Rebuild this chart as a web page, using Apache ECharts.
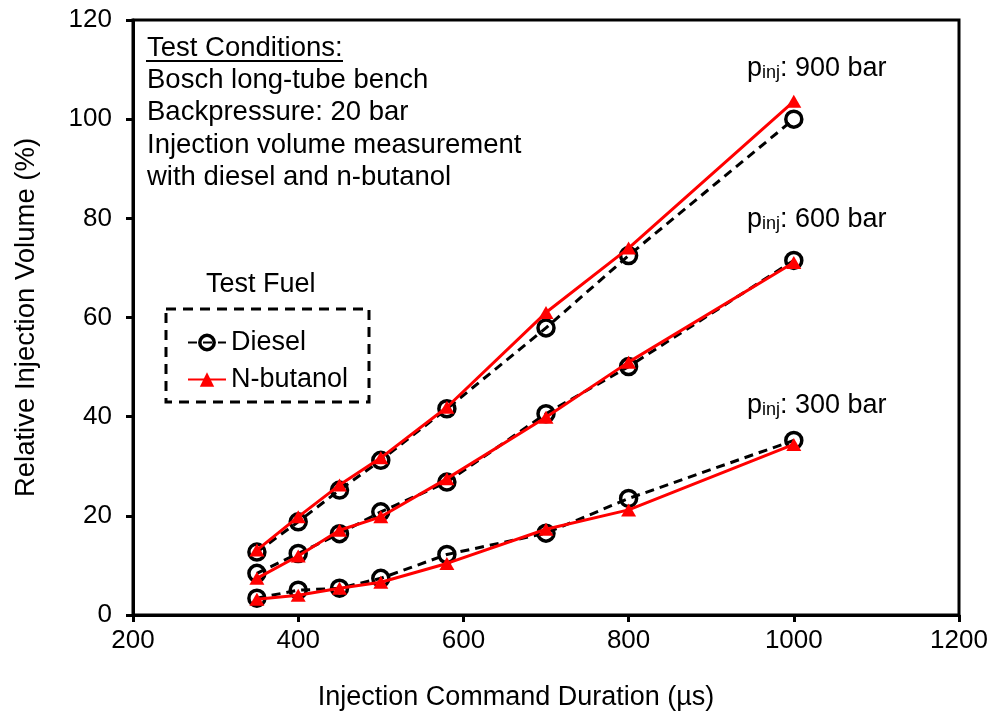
<!DOCTYPE html>
<html>
<head>
<meta charset="utf-8">
<script src="https://cdn.jsdelivr.net/npm/echarts@6/dist/echarts.min.js"></script>
<style>html,body{margin:0;padding:0;background:#fff}#c{width:993px;height:717px}</style>
</head>
<body>
<div id="c"></div>
<script>
const durations = [350, 400, 450, 500, 580, 700, 800, 1000];
const diesel900 = [12.7, 18.8, 25.2, 31.2, 41.6, 57.9, 72.5, 100.0];
const butanol900 = [13.1, 19.8, 26.2, 31.7, 41.9, 61.0, 74.0, 103.6];
const diesel600 = [8.4, 12.4, 16.4, 20.8, 26.8, 40.6, 50.1, 71.5];
const butanol600 = [7.4, 11.9, 17.1, 19.8, 27.5, 39.9, 51.0, 71.1];
const diesel300 = [3.4, 5.0, 5.4, 7.4, 12.2, 16.5, 23.5, 35.2];
const butanol300 = [3.2, 4.0, 5.4, 6.6, 10.4, 17.3, 21.2, 34.4];
const conditionLines = ['Bosch long-tube bench', 'Backpressure: 20 bar', 'Injection volume measurement', 'with diesel and n-butanol'];
const pressureLabels = ['900 bar', '600 bar', '300 bar'];

const FONT = '"Liberation Sans", Arial, sans-serif';
const pair = (vals) => durations.map((d, i) => [d, vals[i]]);

function dieselSeries(vals) {
  return {
    name: 'Diesel', type: 'line', data: pair(vals), z: 2,
    symbol: 'circle', symbolSize: 16,
    lineStyle: { color: '#000', width: 3, type: [9, 6] },
    itemStyle: { color: 'rgba(255,255,255,0)', borderColor: '#000', borderWidth: 3.5 },
    emphasis: { disabled: true }, animation: false
  };
}
function butanolSeries(vals) {
  return {
    name: 'N-butanol', type: 'line', data: pair(vals), z: 3,
    symbol: 'triangle', symbolSize: [15, 13],
    lineStyle: { color: '#ff0000', width: 3 },
    itemStyle: { color: '#ff0000' },
    emphasis: { disabled: true }, animation: false
  };
}

const graphics = [];
graphics.push({ type: 'text', left: 147, top: 34, style: { text: 'Test Conditions:', font: '27.5px ' + FONT, fill: '#000' } });
graphics.push({ type: 'line', shape: { x1: 146, y1: 61, x2: 343, y2: 61 }, style: { stroke: '#000', lineWidth: 2 } });
conditionLines.forEach((t, i) => {
  graphics.push({ type: 'text', left: 147, top: 66 + i * 32.5, style: { text: t, font: '27.5px ' + FONT, fill: '#000' } });
});
const labelY = [55, 206, 392];
pressureLabels.forEach((t, i) => {
  graphics.push({ type: 'text', left: 747, top: labelY[i], style: {
    text: '{p|p}{s|inj}{p|: ' + t + '}',
    rich: {
      p: { fontSize: 27, fontFamily: FONT, lineHeight: 27, fill: '#000', color: '#000' },
      s: { fontSize: 18, fontFamily: FONT, lineHeight: 10, verticalAlign: 'bottom', fill: '#000', color: '#000' }
    }
  }});
});
graphics.push({ type: 'text', left: 206, top: 271, style: { text: 'Test Fuel', font: '27px ' + FONT, fill: '#000' } });
graphics.push({ type: 'rect', shape: { x: 166, y: 309, width: 203, height: 93 }, style: { fill: 'none', stroke: '#000', lineWidth: 3, lineDash: [10, 7] } });

const option = {
  backgroundColor: '#fff',
  animation: false,
  grid: { left: 133, right: 34, top: 20, bottom: 102, show: true, borderColor: '#000', borderWidth: 3, containLabel: false },
  xAxis: {
    type: 'value', min: 200, max: 1200, interval: 200,
    name: 'Injection Command Duration (µs)', nameLocation: 'middle', nameGap: 69,
    nameTextStyle: { fontSize: 27, fontFamily: FONT, color: '#000', padding: [0, 60, 0, 0] },
    axisLine: { show: true, lineStyle: { color: '#000', width: 3 } },
    axisTick: { show: true, inside: false, length: 7, lineStyle: { color: '#000', width: 3 } },
    axisLabel: { fontSize: 26, fontFamily: FONT, color: '#000', margin: 13, formatter: (v) => String(v) },
    splitLine: { show: false }
  },
  yAxis: {
    type: 'value', min: 0, max: 120, interval: 20,
    name: 'Relative Injection Volume (%)', nameLocation: 'middle', nameGap: 93,
    nameTextStyle: { fontSize: 27.5, fontFamily: FONT, color: '#000' },
    axisLine: { show: true, lineStyle: { color: '#000', width: 3 } },
    axisTick: { show: true, inside: false, length: 7, lineStyle: { color: '#000', width: 3 } },
    axisLabel: { fontSize: 26, fontFamily: FONT, color: '#000', margin: 21, formatter: (v) => String(v) },
    splitLine: { show: false }
  },
  legend: {
    data: [
      { name: 'Diesel', itemStyle: { borderWidth: 3.5, borderColor: '#000', color: 'rgba(255,255,255,0)' } },
      { name: 'N-butanol' }
    ],
    orient: 'vertical', left: 182, top: 324,
    itemWidth: 38, itemHeight: 18, itemGap: 10,
    textStyle: { fontSize: 27, fontFamily: FONT, color: '#000' },
    selectedMode: false
  },
  graphic: graphics,
  series: [
    dieselSeries(diesel900), dieselSeries(diesel600), dieselSeries(diesel300),
    butanolSeries(butanol900), butanolSeries(butanol600), butanolSeries(butanol300)
  ]
};
const chart = echarts.init(document.getElementById('c'), null, { renderer: 'canvas' });
chart.setOption(option);
</script>
</body>
</html>
